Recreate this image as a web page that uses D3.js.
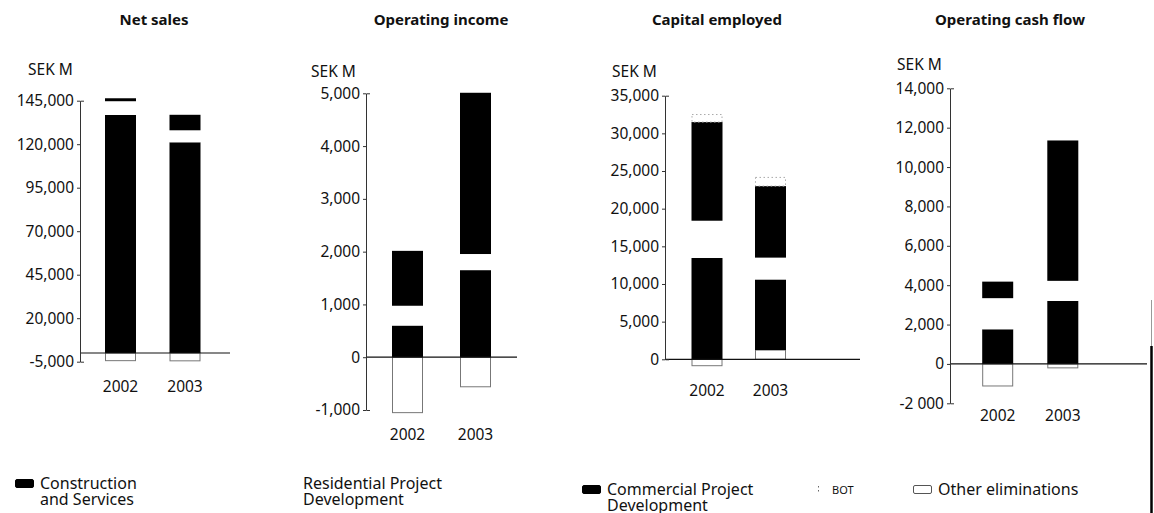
<!DOCTYPE html>
<html>
<head>
<meta charset="utf-8">
<script src="https://cdn.jsdelivr.net/npm/d3@7"></script>
<style>
body { margin: 0; background: #fff; }
svg { display: block; }
text { font-family: "Noto Sans", "Open Sans", Arial, sans-serif; fill: #111; }
.title { font-weight: bold; font-size: 15px; text-anchor: middle; }
.unit { font-size: 15.5px; }
.tick text { font-size: 15.5px; }
.year { font-size: 15.5px; text-anchor: middle; }
.legend text { font-size: 16px; }
.legend .small { font-size: 11px; }
</style>
</head>
<body>
<svg width="1154" height="513"></svg>
<script>
// ---- data ----
var years = ["2002", "2003"];
var titles = ["Net sales", "Operating income", "Capital employed", "Operating cash flow"];

// SEK M, one value per year
var netSales = {
  construction: [136800, 121100],
  residential: [7900, 6900],
  commercial: [1700, 8900],
  bot: [0, 0],
  other: [-4400, -4500]
};
var operatingIncome = {
  construction: [600, 1650],
  residential: [375, 305],
  commercial: [1040, 3055],
  bot: [0, 0],
  other: [-1050, -560]
};
var capitalEmployed = {
  construction: [13450, 9370],
  residential: [4950, 2900],
  commercial: [13100, 9500],
  bot: [1000, 1150],
  other: [-850, 1230]
};
var operatingCashFlow = {
  construction: [1760, 3200],
  residential: [1580, 1020],
  commercial: [840, 7130],
  bot: [0, 0],
  other: [-1120, -200]
};

var netSalesTicks = [-5000, 20000, 45000, 70000, 95000, 120000, 145000];
var opIncomeTicks = [-1000, 0, 1000, 2000, 3000, 4000, 5000];
var capEmpTicks = [0, 5000, 10000, 15000, 20000, 25000, 30000, 35000];
var cashFlowTicks = [-2000, 0, 2000, 4000, 6000, 8000, 10000, 12000, 14000];
var cashFlowTickLabels = ["-2 000", "0", "2,000", "4,000", "6,000", "8,000", "10,000", "12,000", "14,000"];

var legendLabels = [
  ["Construction", "and Services"],
  ["Residential Project", "Development"],
  ["Commercial Project", "Development"],
  ["BOT"],
  ["Other eliminations"]
];
var segKeys = ["construction", "residential", "commercial", "bot", "other"];
// other eliminations sit at the base of the stack
var stackKeys = ["other", "construction", "residential", "commercial", "bot"];

// ---- layout ----
var panels = [
  {data: netSales, ticks: netSalesTicks, axisX: 80, yTop: 100.7, yBot: 361.7, c: [120.5, 185], end: 230, unit: [28, 75], yearY: 392, titleX: 154},
  {data: operatingIncome, ticks: opIncomeTicks, axisX: 366, yTop: 93.3, yBot: 410, c: [407.5, 475.5], end: 517, unit: [311, 77], yearY: 440, titleX: 441},
  {data: capitalEmployed, ticks: capEmpTicks, axisX: 665, yTop: 95.7, yBot: 359.3, c: [707, 770.5], end: 860, unit: [612, 77], yearY: 396, titleX: 717},
  {data: operatingCashFlow, ticks: cashFlowTicks, labels: cashFlowTickLabels, axisX: 950, yTop: 88.3, yBot: 403.3, c: [997.7, 1062.8], end: 1147, unit: [897, 70], yearY: 421, titleX: 1010}
];
var barW = 31;

var style = {
  construction: {fill: "#000", stroke: "none"},
  residential: {fill: "#fff", stroke: "none"},
  commercial: {fill: "#000", stroke: "none"},
  bot: {fill: "#fff", stroke: "#aaa", dash: "1.5,2.5"},
  other: {fill: "#fff", stroke: "#777", dash: null}
};

var svg = d3.select("svg");
var fmt = d3.format(",");

panels.forEach(function(p, i) {
  var g = svg.append("g");
  var y = d3.scaleLinear().domain(d3.extent(p.ticks)).range([p.yBot, p.yTop]);
  var x = d3.scalePoint().domain(years).range(p.c);

  g.append("text").attr("class", "title").attr("x", p.titleX).attr("y", 25).text(titles[i]);
  g.append("text").attr("class", "unit").attr("x", p.unit[0]).attr("y", p.unit[1]).text("SEK M");

  var rows = years.map(function(yr, j) {
    var r = {year: yr};
    segKeys.forEach(function(k) { r[k] = p.data[k][j]; });
    return r;
  });
  var series = d3.stack().keys(stackKeys).offset(d3.stackOffsetDiverging)(rows);

  series.forEach(function(s) {
    var st = style[s.key];
    var pad = st.stroke !== "none" ? 0.5 : 0;
    g.selectAll(null).data(s.filter(function(d) { return d[1] !== d[0]; }))
      .enter().append("rect")
      .attr("x", function(d) { return x(d.data.year) - barW / 2 + pad; })
      .attr("width", barW - 2 * pad)
      .attr("y", function(d) { return y(Math.max(d[0], d[1])); })
      .attr("height", function(d) { return Math.abs(y(d[0]) - y(d[1])); })
      .attr("fill", st.fill)
      .attr("stroke", st.stroke)
      .attr("stroke-width", 1)
      .attr("stroke-dasharray", st.dash);
  });

  // zero line
  g.append("line")
    .attr("x1", p.axisX).attr("x2", p.end)
    .attr("y1", y(0)).attr("y2", y(0))
    .attr("stroke", "#111").attr("stroke-width", 1.2);

  var axis = d3.axisLeft(y).tickValues(p.ticks)
    .tickSizeInner(3).tickSizeOuter(-4).tickPadding(3)
    .tickFormat(function(d, k) { return p.labels ? p.labels[k] : fmt(d).replace("\u2212", "-"); });
  var ag = g.append("g").attr("transform", "translate(" + p.axisX + ",0)").call(axis);
  ag.selectAll("path, line").attr("stroke", "#333");
  ag.selectAll("text").attr("fill", "#111").style("font-family", null);

  g.selectAll(".year").data(years).enter().append("text")
    .attr("class", "year")
    .attr("x", function(d) { return x(d); })
    .attr("y", p.yearY)
    .text(function(d) { return d; });
});

// ---- legend ----
var legendPos = [
  {sx: 15, sy: 479, tx: 40, ty: 489},
  {sx: null, tx: 303, ty: 489},
  {sx: 582, sy: 485, tx: 607, ty: 495},
  {sx: 818, sy: 486, tx: 832, ty: 494, small: true},
  {sx: 913, sy: 485, tx: 938, ty: 495}
];
var lg = svg.append("g").attr("class", "legend");
legendPos.forEach(function(l, i) {
  var st = style[segKeys[i]];
  if (l.sx !== null) {
    if (segKeys[i] === "bot") {
      lg.append("line").attr("x1", l.sx + 0.5).attr("x2", l.sx + 0.5)
        .attr("y1", l.sy).attr("y2", l.sy + 8)
        .attr("stroke", "#666").attr("stroke-dasharray", "1.5,2.5");
    } else {
      lg.append("rect").attr("x", l.sx + 0.5).attr("y", l.sy + 0.5)
        .attr("width", 18).attr("height", 8).attr("rx", 1.5)
        .attr("fill", st.fill).attr("stroke", st.stroke === "none" ? "#000" : "#555");
    }
  }
  legendLabels[i].forEach(function(line, k) {
    lg.append("text").attr("x", l.tx).attr("y", l.ty + k * 15.5)
      .attr("class", l.small ? "small" : null).text(line);
  });
});

// scanned page edge
svg.append("line").attr("x1", 1151.5).attr("x2", 1151.5).attr("y1", 300).attr("y2", 346)
  .attr("stroke", "#999").attr("stroke-width", 1);
svg.append("line").attr("x1", 1151.5).attr("x2", 1151.5).attr("y1", 346).attr("y2", 513)
  .attr("stroke", "#000").attr("stroke-width", 2.5);
</script>
</body>
</html>
